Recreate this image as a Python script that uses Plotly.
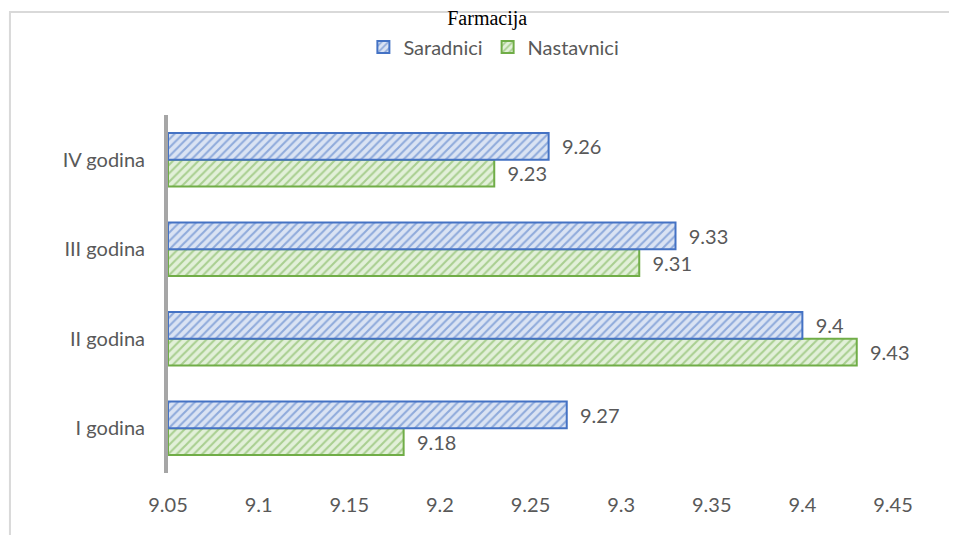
import plotly.graph_objects as go

categories = ["I godina", "II godina", "III godina", "IV godina"]
saradnici = [9.27, 9.4, 9.33, 9.26]
nastavnici = [9.18, 9.43, 9.31, 9.23]
x_ticks = [9.05, 9.1, 9.15, 9.2, 9.25, 9.3, 9.35, 9.4, 9.45]
x_tick_labels = ["9.05", "9.1", "9.15", "9.2", "9.25", "9.3", "9.35", "9.4", "9.45"]
base_value = 9.05

FONT = "Lato"
GREY = "#595959"
PAD = "\u00a0\u00a0"

fig = go.Figure()

fig.add_trace(go.Bar(
    name="Nastavnici", y=categories, x=[v - base_value for v in nastavnici], base=base_value,
    orientation="h", legendrank=2,
    marker=dict(color="#e2f0d9", line=dict(color="#70ad47", width=2),
                pattern=dict(shape="/", fgcolor="#70ad47", bgcolor="#e2f0d9", size=6, solidity=0.35)),
    text=[PAD + f"{v:g}" for v in nastavnici], textposition="outside",
    textfont=dict(family=FONT, size=20, color=GREY), cliponaxis=False,
))
fig.add_trace(go.Bar(
    name="Saradnici", y=categories, x=[v - base_value for v in saradnici], base=base_value,
    orientation="h", legendrank=1,
    marker=dict(color="#dae3f3", line=dict(color="#4472c4", width=2),
                pattern=dict(shape="/", fgcolor="#4472c4", bgcolor="#dae3f3", size=6, solidity=0.35)),
    text=[PAD + f"{v:g}" for v in saradnici], textposition="outside",
    textfont=dict(family=FONT, size=20, color=GREY), cliponaxis=False,
))

# chart frame (light grey border, partially outside the canvas)
fig.add_shape(type="rect", xref="paper", yref="paper",
              x0=-0.218, x1=1.2, y0=-0.3, y1=1.288,
              line=dict(color="#d9d9d9", width=2), fillcolor="rgba(0,0,0,0)", layer="below")

fig.update_layout(
    width=949, height=527,
    margin=dict(l=160, r=64, t=107, b=62, autoexpand=False),
    paper_bgcolor="white", plot_bgcolor="white",
    barmode="group", bargap=0.4, bargroupgap=0,
    title=dict(text="Farmacija", x=0.505, xanchor="center", xref="container",
               y=0.994, yref="container", yanchor="top",
               font=dict(family="Liberation Serif", size=20, color="black"),
               automargin=False),
    legend=dict(orientation="h", xref="container", x=0.512, xanchor="center",
                yref="container", y=1 - 39 / 527, yanchor="middle",
                font=dict(family=FONT, size=20, color=GREY), itemwidth=30,
                bgcolor="rgba(0,0,0,0)"),
    xaxis=dict(range=[9.05, 9.45], tickvals=x_ticks, ticktext=x_tick_labels,
               showgrid=False, zeroline=False, showline=False, ticks="",
               ticklabelstandoff=18, automargin=False,
               tickfont=dict(family=FONT, size=20, color=GREY)),
    yaxis=dict(range=[-0.5, 3.5], showgrid=False, zeroline=False,
               showline=True, linecolor="#a6a6a6", linewidth=4, ticks="",
               ticklabelstandoff=15, automargin=False,
               tickfont=dict(family=FONT, size=20, color=GREY)),
)

fig.write_html("out.html")
